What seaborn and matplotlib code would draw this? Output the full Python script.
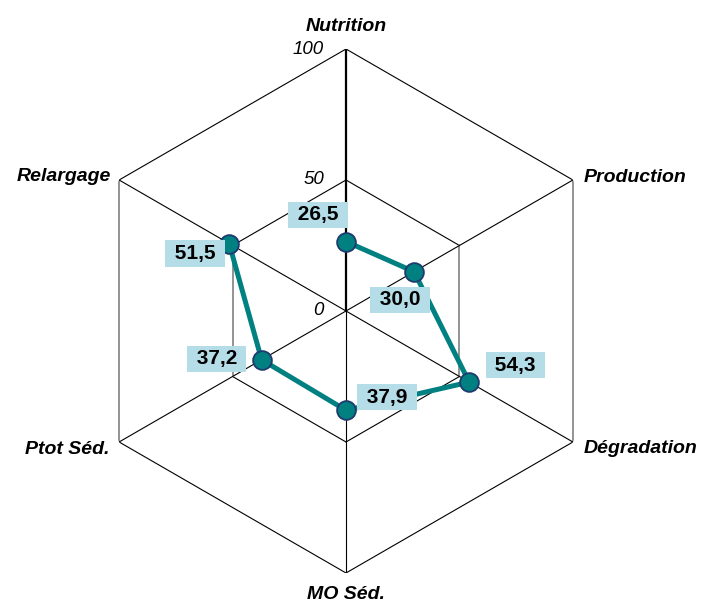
import numpy as np
import pandas as pd
import seaborn as sns
import matplotlib.pyplot as plt

categories = ["Nutrition", "Production", "Dégradation", "MO Séd.", "Ptot Séd.", "Relargage"]
values = [26.5, 30.0, 54.3, 37.9, 37.2, 51.5]
rings = [50, 100]
ring_ticks = [0, 50, 100]

sns.set_style("white")
plt.rcParams["font.family"] = ["Liberation Sans", "DejaVu Sans"]
plt.rcParams["text.color"] = "black"

n = len(categories)
theta = np.deg2rad(np.arange(n) * 360.0 / n)

fig = plt.figure(figsize=(7.07, 6.02), dpi=100)
ax = fig.add_axes([0.1188, 0.0482, 0.7412, 0.8704], projection="polar")
ax.set_theta_zero_location("N")
ax.set_theta_direction(-1)

# hexagonal grid
for r in rings:
    for i in range(n):
        j = (i + 1) % n
        vertical = (i == 1 or i == 4)
        ax.plot([theta[i], theta[j]], [r, r], color="#808080" if vertical else "black",
                lw=1.2 if vertical else 0.8, zorder=1)

# spokes
for i in range(n):
    ax.plot([theta[i], theta[i]], [0, 100], color="black", lw=1.6 if i == 0 else 0.8, zorder=1)

# radial tick labels
for r in ring_ticks:
    ax.annotate(str(r), xy=(0, r), xytext=(-22, 0), textcoords="offset pixels",
                ha="right", va="center", fontsize=13.5, style="italic", color="black")

# category labels
label_off = [(0, 18, "center"), (11, -2, "left"), (11, -11, "left"),
             (0, -26, "center"), (-10, -12, "right"), (-8, -1, "right")]
for t, name, (dx, dy, ha) in zip(theta, categories, label_off):
    ax.annotate(name, xy=(t, 100), xytext=(dx, dy), textcoords="offset pixels",
                ha=ha, va="baseline", fontsize=14, fontweight="bold", style="italic",
                color="black", annotation_clip=False)

df = pd.DataFrame({"theta": list(theta) + [theta[0]], "value": values + [values[0]]})
sns.lineplot(data=df, x="theta", y="value", sort=False, ax=ax, color="#008080", lw=3.6,
             marker="o", markersize=13.5, markerfacecolor="#008080", markeredgecolor="#1F3A6E",
             markeredgewidth=1.3, zorder=3)
ax.set_xlabel("")
ax.set_ylabel("")
ax.set_xticks([])
ax.set_yticks([])
ax.set_ylim(0, 100)
ax.grid(False)
ax.spines["polar"].set_visible(False)

# value labels
val_off = [(-28, 27), (-14, -28), (46, 17), (41, 13), (-45, 1), (-34, -10)]
for t, v, (dx, dy) in zip(theta, values, val_off):
    ax.annotate(" " + f"{v:.1f}".replace(".", ",") + " ", xy=(t, v), xytext=(dx, dy),
                textcoords="offset pixels", ha="center", va="center", fontsize=15,
                fontweight="bold", color="black",
                bbox=dict(boxstyle="square,pad=0.17", fc="#B4DDE8", ec="none"), zorder=4)

fig.savefig("out.png", dpi=100, facecolor="white")
